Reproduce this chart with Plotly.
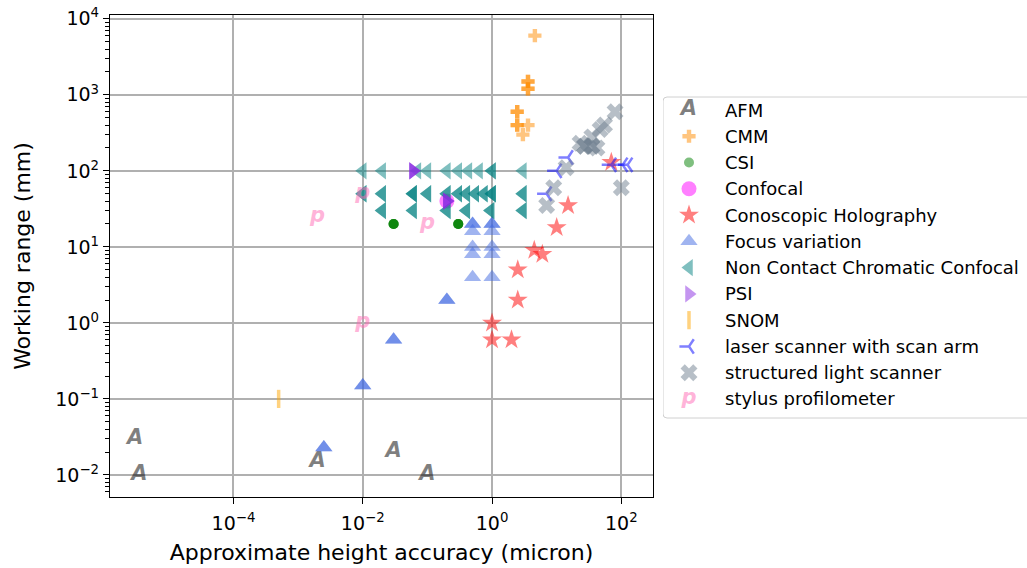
import plotly.graph_objects as go

# ---------------- data ----------------
categories = ["AFM", "CMM", "CSI", "Confocal", "Conoscopic Holography",
              "Focus variation", "Non Contact Chromatic Confocal", "PSI", "SNOM",
              "laser scanner with scan arm", "structured light scanner",
              "stylus profilometer"]

afm_x = [3e-6, 3.5e-6, 0.002, 0.03, 0.1]
afm_y = [0.03, 0.01, 0.015, 0.02, 0.01]

cmm_x = [4.6, 3.6, 3.6, 3.6, 3.6, 2.45, 2.45, 2.45, 2.45, 3.6, 3.0]
cmm_y = [6000, 1500, 1500, 1200, 1200, 600, 600, 400, 400, 400, 300]

csi_x = [0.03, 0.03, 0.03, 0.03, 0.3, 0.3, 0.3, 0.3]
csi_y = [20, 20, 20, 20, 20, 20, 20, 20]

confocal_x = [0.2]
confocal_y = [40]

cono_x = [15, 10, 4.5, 6, 2.5, 2.5, 1, 1, 2, 70]
cono_y = [35, 18, 9, 8, 5, 2, 1, 0.6, 0.6, 130]

focus_x = [0.0025, 0.0025, 0.01, 0.01, 0.03, 0.03, 0.2, 0.2,
           0.5, 0.5, 0.5, 0.5, 0.5, 0.5,
           1.0, 1.0, 1.0, 1.0, 1.0, 1.0]
focus_y = [0.023, 0.023, 0.15, 0.15, 0.6, 0.6, 2, 2,
           20, 20, 16, 10, 8, 4,
           20, 20, 16, 10, 8, 4]

nccc_x = [0.01, 0.02, 0.07, 0.1, 0.2, 0.3, 0.43, 0.63, 1.0, 1.0, 3.0,
          0.01, 0.01, 0.02, 0.02, 0.06, 0.06, 0.06, 0.1, 0.1, 0.2, 0.2,
          0.3, 0.3, 0.4, 0.4, 0.55, 0.55, 0.75, 0.75, 1.0, 1.0, 1.0, 3.0, 3.0,
          0.02, 0.02, 0.06, 0.06, 0.2, 0.2, 0.4, 0.4, 0.95, 0.95, 3.0, 3.0]
nccc_y = [100, 100, 100, 100, 100, 100, 100, 100, 100, 100, 100,
          50, 50, 50, 50, 50, 50, 50, 50, 50, 50, 50,
          50, 50, 50, 50, 50, 50, 50, 50, 50, 50, 50, 50, 50,
          30, 30, 30, 30, 30, 30, 30, 30, 30, 30, 30, 30]

psi_x = [0.06, 0.06, 0.06, 0.2, 0.2, 0.2]
psi_y = [100, 100, 100, 40, 40, 40]

snom_x = [5e-4]
snom_y = [0.1]

laser_x = [7, 10, 15, 70, 105, 125]
laser_y = [50, 100, 150, 120, 120, 120]

sls_x = [80, 55, 47, 35, 23, 27, 27, 35, 35, 42, 14, 9, 7, 100]
sls_y = [600, 400, 350, 280, 230, 210, 210, 210, 210, 200, 110, 60, 35, 60]

stylus_x = [0.002, 0.01, 0.1, 0.01]
stylus_y = [25, 50, 20, 1]

x_tickvals = [1e-4, 1e-2, 1e0, 1e2]
x_ticktext = ["10<sup>\u22124</sup>", "10<sup>\u22122</sup>", "10<sup>0</sup>", "10<sup>2</sup>"]
y_tickvals = [1e-2, 1e-1, 1e0, 1e1, 1e2, 1e3, 1e4]
y_ticktext = ["10<sup>\u22122</sup>", "10<sup>\u22121</sup>", "10<sup>0</sup>", "10<sup>1</sup>",
              "10<sup>2</sup>", "10<sup>3</sup>", "10<sup>4</sup>"]

series = {
    "AFM": (afm_x, afm_y),
    "CMM": (cmm_x, cmm_y),
    "CSI": (csi_x, csi_y),
    "Confocal": (confocal_x, confocal_y),
    "Conoscopic Holography": (cono_x, cono_y),
    "Focus variation": (focus_x, focus_y),
    "Non Contact Chromatic Confocal": (nccc_x, nccc_y),
    "PSI": (psi_x, psi_y),
    "SNOM": (snom_x, snom_y),
    "laser scanner with scan arm": (laser_x, laser_y),
    "structured light scanner": (sls_x, sls_y),
    "stylus profilometer": (stylus_x, stylus_y),
}

# ---------------- styles ----------------
FONT = "DejaVu Sans"
STYLE = {
    "AFM": dict(text="A", color="rgba(0,0,0,0.5)"),
    "CMM": dict(symbol="cross", size=11, color="rgba(255,140,0,0.5)"),
    "CSI": dict(symbol="circle", size=10, color="rgba(0,128,0,0.5)"),
    "Confocal": dict(symbol="circle", size=15, color="rgba(255,0,255,0.5)"),
    "Conoscopic Holography": dict(symbol="star", size=15, color="rgba(255,0,0,0.5)"),
    "Focus variation": dict(symbol="triangle-up", size=15, color="rgba(65,105,225,0.5)"),
    "Non Contact Chromatic Confocal": dict(symbol="triangle-left", size=15, color="rgba(0,128,128,0.5)"),
    "PSI": dict(symbol="triangle-right", size=15, color="rgba(138,43,226,0.5)"),
    "SNOM": dict(symbol="line-ns", size=13, color="rgba(255,165,0,0.5)", lw=3.5),
    "laser scanner with scan arm": dict(symbol="y-left", size=12, color="rgba(0,0,255,0.5)", lw=2.5),
    "structured light scanner": dict(symbol="x", size=15, color="rgba(112,128,144,0.5)"),
    "stylus profilometer": dict(text="p", color="rgba(255,105,180,0.5)"),
}


def make_trace(name, xs, ys, xaxis="x", yaxis="y"):
    st = STYLE[name]
    if "text" in st:
        return go.Scatter(x=xs, y=ys, mode="text", text=[st["text"]] * len(xs),
                          textposition="middle center",
                          textfont=dict(family=FONT, size=21, color=st["color"],
                                        weight="bold", style="italic"),
                          xaxis=xaxis, yaxis=yaxis, showlegend=False, hoverinfo="skip",
                          name=name)
    lw = st.get("lw", 0)
    return go.Scatter(x=xs, y=ys, mode="markers",
                      marker=dict(symbol=st["symbol"], size=st["size"], color=st["color"],
                                  line=dict(width=lw, color=st["color"])),
                      xaxis=xaxis, yaxis=yaxis, showlegend=False, name=name)


fig = go.Figure()
for cat in categories:
    xs, ys = series[cat]
    fig.add_trace(make_trace(cat, xs, ys))

# ---------------- custom legend (pixel-coordinate axis) ----------------
W, H = 1027, 568
L, R, T, B = 110, 0, 15, 71
plot_right = 653
paper_w = W - L - R
leg_left = 663
leg_top, leg_bottom = 97, 418
row0, row_step = 110, 26.27
mark_x, text_x = 689, 723

leg_y = [row0 + row_step * i for i in range(len(categories))]
for i, cat in enumerate(categories):
    fig.add_trace(make_trace(cat, [mark_x], [leg_y[i]], xaxis="x2", yaxis="y2"))
    fig.add_annotation(x=text_x, y=leg_y[i], xref="x2", yref="y2", text=cat,
                       showarrow=False, xanchor="left", yanchor="middle",
                       font=dict(family=FONT, size=18, color="black"))

rad = 4
fig.add_shape(type="path", xref="x2", yref="y2",
              path=(f"M {leg_left + rad},{leg_top} L {W + 20},{leg_top} L {W + 20},{leg_bottom} "
                    f"L {leg_left + rad},{leg_bottom} Q {leg_left},{leg_bottom} {leg_left},{leg_bottom - rad} "
                    f"L {leg_left},{leg_top + rad} Q {leg_left},{leg_top} {leg_left + rad},{leg_top} Z"),
              line=dict(color="#d0d0d0", width=1), fillcolor="rgba(255,255,255,0.8)", layer="below")

axis_common = dict(
    type="log", showline=True, linecolor="black", linewidth=1.3, mirror=True,
    ticks="outside", ticklen=6, tickwidth=1.3, tickcolor="black",
    tickmode="array", showgrid=True, gridcolor="#b0b0b0", gridwidth=1.5,
    tickfont=dict(family=FONT, size=19, color="black"), zeroline=False,
    automargin=False,
)

minor_y = [m * 10 ** k for k in range(-3, 5) for m in range(2, 10)]

fig.update_layout(
    width=W, height=H,
    margin=dict(l=L, r=R, t=T, b=B, autoexpand=False),
    paper_bgcolor="white", plot_bgcolor="white",
    showlegend=False,
    xaxis=dict(axis_common, domain=[0, (plot_right - L) / paper_w], range=[-5.91, 2.49],
               tickvals=x_tickvals, ticktext=x_ticktext, ticklabelstandoff=3,
               title=dict(text="Approximate height accuracy (micron)",
                          font=dict(family=FONT, size=22, color="black"), standoff=11)),
    yaxis=dict(axis_common, range=[-2.29, 4.05],
               tickvals=y_tickvals, ticktext=y_ticktext,
               minor=dict(ticks="outside", ticklen=3.5, tickwidth=1, tickcolor="black",
                          tickmode="array", tickvals=minor_y, showgrid=False),
               title=dict(text="Working range (mm)",
                          font=dict(family=FONT, size=22, color="black"), standoff=18)),
    xaxis2=dict(domain=[(leg_left - L) / paper_w, 1], range=[leg_left, W], anchor="y2",
                visible=False, fixedrange=True, automargin=False),
    yaxis2=dict(domain=[0, 1], range=[H - B, T], anchor="x2", visible=False, fixedrange=True,
                automargin=False),
    font=dict(family=FONT, color="black"),
)

fig.write_html("out.html", config={"displayModeBar": False},
               post_script="document.body.style.margin='0';document.body.style.overflow='hidden';")
